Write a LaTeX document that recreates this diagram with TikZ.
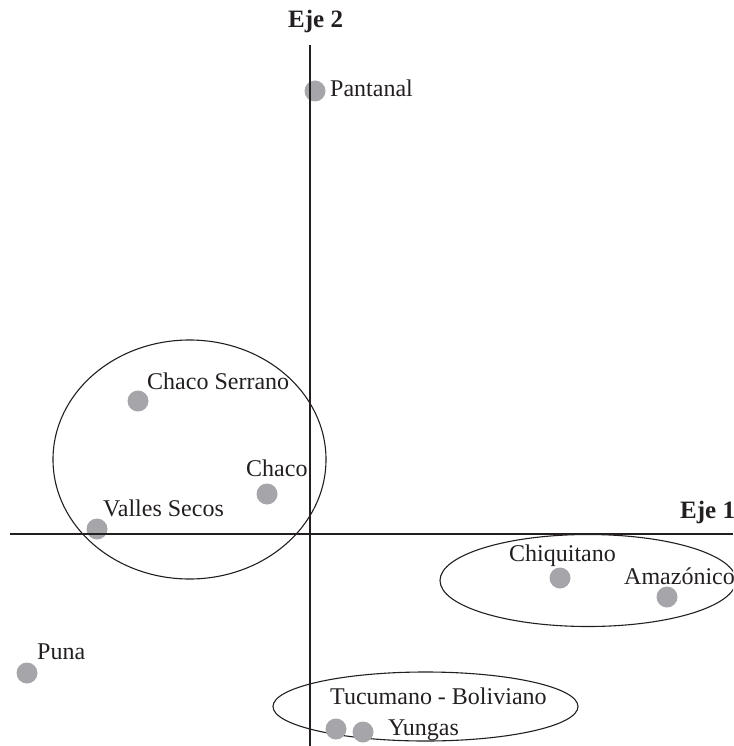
\documentclass[tikz,border=0pt]{standalone}
\usepackage{fontspec}
\setmainfont{Liberation Serif}
\definecolor{dotgray}{RGB}{166,166,170}
\definecolor{inkc}{RGB}{35,31,32}
\begin{document}
\begin{tikzpicture}[x=1pt,y=-1pt,
  pt/.style={circle,fill=dotgray,minimum size=21pt,inner sep=0pt},
  lbl/.style={anchor=base west,inner sep=0pt,font=\fontsize{24}{27}\selectfont,text=inkc},
  axlbl/.style={anchor=base west,inner sep=0pt,font=\fontsize{25}{28}\selectfont\bfseries,text=inkc},
  axis/.style={draw=inkc,line width=2.2pt},
  grp/.style={draw=inkc,line width=1.1pt}]
\useasboundingbox (0,0) rectangle (733,746);
\clip (0,0) rectangle (733,746);
% group ellipses
\draw[grp] (189.5,459.5) ellipse [x radius=136.5, y radius=119.5];
\draw[grp] (588,580.5) ellipse [x radius=148, y radius=46];
\draw[grp] (425.5,706.5) ellipse [x radius=152.5, y radius=34.5];
% points
\node[pt] (pant) at (315,91) {};
\node[pt] (chs) at (138,401) {};
\node[pt] (cha) at (267,494) {};
\node[pt] (val) at (97,529) {};
\node[pt] (chi) at (560,578) {};
\node[pt] (ama) at (667,597) {};
\node[pt] (pun) at (27,673) {};
\node[pt] (tuc) at (336,729) {};
\node[pt] (yun) at (363,732) {};
% axes
\coordinate (ytop) at (310,45);
\coordinate (ybot) at (310,746);
\coordinate (xl) at (10,534);
\coordinate (xr) at (733,534);
\draw[axis] (ytop) -- (ybot);
\draw[axis] (xl) -- (xr);
\node[axlbl] (e2) at (288,28) {Eje 2};
\node[axlbl] (e1) at (680,518) {Eje 1};
% labels
\node[lbl] (lpant) at (330,97) {Pantanal};
\node[lbl] (lchs) at (147,389) {Chaco Serrano};
\node[lbl] (lcha) at (246,476) {Chaco};
\node[lbl] (lval) at (103,516) {Valles Secos};
\node[lbl] (lchi) at (509,561) {Chiquitano};
\node[lbl] (lama) at (624,584) {Amazónico};
\node[lbl] (lpun) at (37,659) {Puna};
\node[lbl] (ltuc) at (330,704) {Tucumano - Boliviano};
\node[lbl] (lyun) at (388,735) {Yungas};
\end{tikzpicture}
\end{document}
